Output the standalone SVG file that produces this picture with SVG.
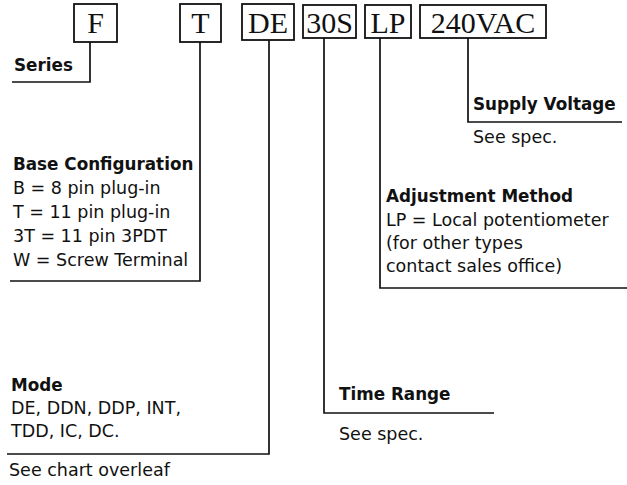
<svg xmlns="http://www.w3.org/2000/svg" width="627" height="485" viewBox="0 0 627 485">
<style>
.box{fill:none;stroke:#111;stroke-width:1.8}
.code{font-family:"Liberation Serif",serif;font-size:30px;fill:#111;text-anchor:middle}
.lbl{font-family:"DejaVu Sans",sans-serif;font-size:17.5px;fill:#111}
.hd{font-weight:bold;font-size:16.8px}
.ln{fill:none;stroke:#111;stroke-width:1.7}
</style>
<rect width="627" height="485" fill="#fff"/>
<g id="connectors">
<polyline class="ln" points="90,42 90,82 12,82"/>
<polyline class="ln" points="200,42 200,281 10,281"/>
<polyline class="ln" points="269,40 269,454 7,454"/>
<polyline class="ln" points="324,38 324,413 494,413"/>
<polyline class="ln" points="380,38 380,288 627,288"/>
<polyline class="ln" points="468,38 468,122 622,122"/>
</g>
<g id="box-F"><rect class="box" x="74" y="4" width="43" height="38"/><text class="code" x="95.5" y="33">F</text></g>
<g id="box-T"><rect class="box" x="180" y="4" width="41" height="38"/><text class="code" x="200.5" y="33">T</text></g>
<g id="box-DE"><rect class="box" x="242" y="4" width="52" height="36"/><text class="code" x="268" y="33">DE</text></g>
<g id="box-30S"><rect class="box" x="303" y="5" width="53" height="33"/><text class="code" x="329.5" y="33">30S</text></g>
<g id="box-LP"><rect class="box" x="365" y="5" width="46" height="33"/><text class="code" x="388" y="33">LP</text></g>
<g id="box-240VAC"><rect class="box" x="420" y="5" width="126" height="33"/><text class="code" x="483" y="33">240VAC</text></g>
<g id="series"><text class="lbl hd" x="14" y="71">Series</text></g>
<g id="base-configuration">
<text class="lbl hd" x="13" y="170">Base Configuration</text>
<text class="lbl" x="13" y="194">B = 8 pin plug-in</text>
<text class="lbl" x="13" y="218">T = 11 pin plug-in</text>
<text class="lbl" x="13" y="242">3T = 11 pin 3PDT</text>
<text class="lbl" x="13" y="266">W = Screw Terminal</text>
</g>
<g id="mode">
<text class="lbl hd" x="11" y="391">Mode</text>
<text class="lbl" x="11" y="414">DE, DDN, DDP, INT,</text>
<text class="lbl" x="11" y="437">TDD, IC, DC.</text>
<text class="lbl" x="9" y="476">See chart overleaf</text>
</g>
<g id="time-range">
<text class="lbl hd" x="339" y="400">Time Range</text>
<text class="lbl" x="339" y="440">See spec.</text>
</g>
<g id="adjustment-method">
<text class="lbl hd" x="386" y="202">Adjustment Method</text>
<text class="lbl" x="386" y="226">LP = Local potentiometer</text>
<text class="lbl" x="386" y="249">(for other types</text>
<text class="lbl" x="386" y="272">contact sales office)</text>
</g>
<g id="supply-voltage">
<text class="lbl hd" x="473" y="110">Supply Voltage</text>
<text class="lbl" x="473" y="143">See spec.</text>
</g>
</svg>
